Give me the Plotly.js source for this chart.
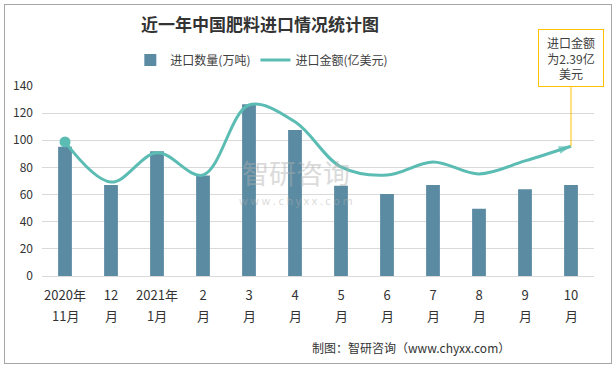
<!DOCTYPE html>
<html><head><meta charset="utf-8">
<script src="https://cdn.plot.ly/plotly-3.0.1.min.js"></script>
<style>
html,body{margin:0;padding:0;background:#fff;}
#wrap{position:relative;width:616px;height:368px;}
#chart{width:616px;height:368px;}
#frame{position:absolute;left:4px;top:4px;width:606px;height:358px;border:1px solid #a6a6a6;pointer-events:none;}
</style></head>
<body>
<div id="wrap"><div id="chart"></div><div id="frame"></div></div>
<script>
const labelTop = ["2020年","12","2021年","2","3","4","5","6","7","8","9","10"];
const labelBottom = ["11月","月","1月","月","月","月","月","月","月","月","月","月"];
const categories = ["2020年11月","12月","2021年1月","2月","3月","4月","5月","6月","7月","8月","9月","10月"];
const importVolume = [95.3, 67, 92, 74, 126.5, 107.6, 66.5, 60.5, 67, 49.5, 64, 67];
const importValue = [2.47, 1.73, 2.27, 1.86, 3.15, 2.84, 2.01, 1.86, 2.10, 1.88, 2.12, 2.39];
const volumeTicks = [0, 20, 40, 60, 80, 100, 120, 140];

const n = importValue.length;
const font = "'Noto Sans CJK SC', 'Noto Sans', sans-serif";
const teal = '#5BBCB3';

const traces = [
  {
    type: 'bar', name: '进口数量(万吨)', x: categories, y: importVolume,
    marker: {color: '#5B8BA3'}, width: 0.3, yaxis: 'y'
  },
  {
    type: 'scatter', mode: 'lines+markers', name: '进口金额(亿美元)', x: categories, y: importValue,
    yaxis: 'y2',
    line: {color: teal, width: 3, shape: 'spline', smoothing: 1},
    marker: {color: teal, symbol: importValue.map((v, i) => i === n - 1 ? 'arrow' : 'circle'),
             size: importValue.map((v, i) => i === n - 1 ? 13 : 0), angleref: 'previous', line: {width: 0}}
  },
  {
    type: 'scatter', mode: 'markers', showlegend: false, hoverinfo: 'skip',
    x: categories.slice(0, 1), y: importValue.slice(0, 1), yaxis: 'y2',
    marker: {color: teal, symbol: 'circle', size: 11}
  }
];

const bottomLabels = categories.map((c, i) => ({
  x: c, xref: 'x', y: (276 - 315) / 190, yref: 'paper', yanchor: 'middle', showarrow: false,
  text: labelBottom[i], font: {size: 13, color: '#333'}
}));

const layout = {
  width: 616, height: 368,
  margin: {l: 42, r: 22, t: 86, b: 92, autoexpand: false},
  paper_bgcolor: '#fff', plot_bgcolor: '#fff',
  font: {family: font, color: '#404040', size: 12},
  title: {text: '近一年中国肥料进口情况统计图', x: 0.422, xanchor: 'center', y: 0.932, yanchor: 'middle',
          font: {family: font, size: 17, color: '#333', weight: 'bold'}},
  showlegend: true,
  legend: {orientation: 'h', x: 0.16, xanchor: 'left', y: 1.137, yanchor: 'middle',
           font: {size: 12, color: '#404040'}, traceorder: 'normal'},
  xaxis: {type: 'category', range: [-0.5, categories.length - 0.5], autorange: false,
          tickvals: categories, ticktext: labelTop,
          showgrid: false, showline: false, zeroline: false, automargin: false,
          ticks: '', tickfont: {size: 13, color: '#333'}, ticklabelstandoff: 10},
  yaxis: {range: [0, 140], tickvals: volumeTicks, showgrid: true, gridcolor: '#d9d9d9', gridwidth: 1,
          zeroline: true, zerolinecolor: '#d9d9d9', showline: false, ticks: '', automargin: false,
          tickfont: {size: 12, color: '#333'}, ticklabelstandoff: 8},
  yaxis2: {range: [0, 3.5], overlaying: 'y', side: 'right', visible: false, showgrid: false,
           zeroline: false, automargin: false},
  annotations: [
    {x: categories[n - 1], y: importValue[n - 1], xref: 'x', yref: 'y2',
     text: '进口金额<br>为2.39亿<br>美元', showarrow: true, arrowhead: 0, arrowwidth: 1, arrowcolor: '#FFC000',
     ax: 0, ay: -88, bordercolor: '#FFC000', borderwidth: 1, borderpad: 4, bgcolor: '#fff',
     font: {size: 12, color: '#404040'}, width: 56, align: 'center'},
    {x: (512 - 42) / 552, xref: 'paper', xanchor: 'right', y: (276 - 347) / 190, yref: 'paper', yanchor: 'middle',
     showarrow: false, text: '制图：智研咨询（www.chyxx.com）', font: {size: 12, color: '#333'}},
    {x: 0.46, xref: 'paper', y: 0.545, yref: 'paper', showarrow: false, text: '智研咨询',
     font: {size: 27, color: '#b0b0b0'}, opacity: 0.45},
    {x: 0.46, xref: 'paper', y: 0.40, yref: 'paper', showarrow: false, text: 'w w w . c h y x x . c o m',
     font: {size: 11, color: '#b0b0b0'}, opacity: 0.45}
  ].concat(bottomLabels)
};

Plotly.newPlot('chart', traces, layout, {displayModeBar: false, staticPlot: true});
</script>
</body></html>
